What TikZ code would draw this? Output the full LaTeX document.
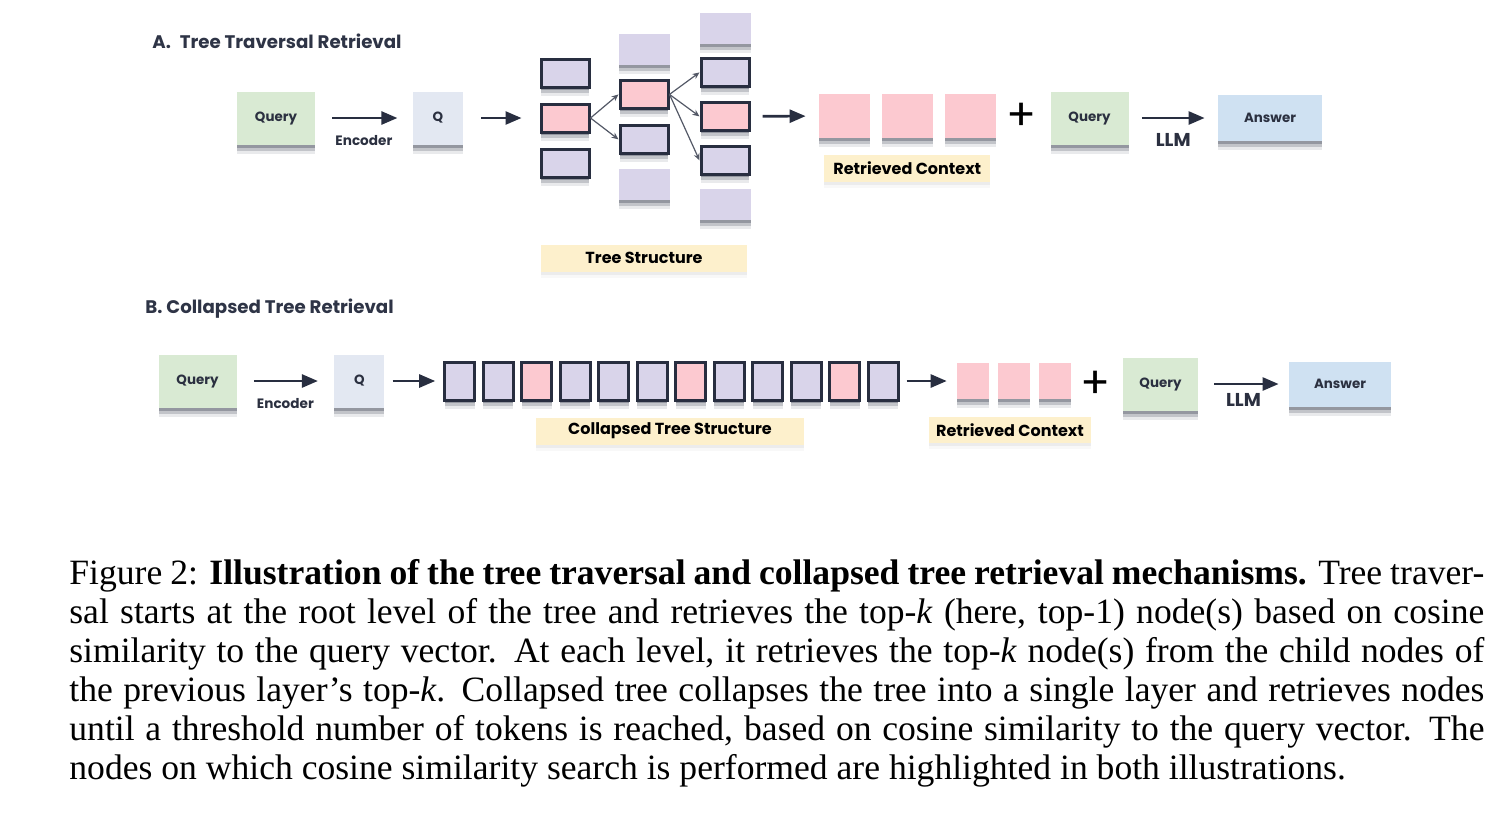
\documentclass[tikz,border=0pt]{standalone}
\usepackage{fontspec}
\setmainfont{Liberation Serif}
\newfontfamily\diagfont{Poppins}
\usepackage{tikz}
\usetikzlibrary{positioning,shadows,arrows.meta,calc}
\usepackage{xcolor}
\definecolor{querygreen}{RGB}{217,234,211}
\definecolor{qgrey}{RGB}{227,232,242}
\definecolor{answerblue}{RGB}{207,225,242}
\definecolor{hitpink}{RGB}{252,201,208}
\definecolor{lav}{RGB}{217,212,234}
\definecolor{edgedark}{RGB}{40,46,64}
\definecolor{tagyellow}{RGB}{253,240,204}
\definecolor{textdark}{RGB}{43,48,64}
\definecolor{titledark}{RGB}{46,52,70}

\begin{document}
\begin{tikzpicture}[
    x=0.5pt, y=-0.5pt,
    node distance=7pt,
    boxshadow/.style={
        drop shadow={shadow xshift=0pt, shadow yshift=-1.5pt, opacity=0.3, fill=edgedark},
        drop shadow={shadow xshift=0pt, shadow yshift=-3pt, opacity=0.2, fill=edgedark},
        drop shadow={shadow xshift=0pt, shadow yshift=-4.5pt, opacity=0.1, fill=edgedark}},
    box/.style={rectangle, inner sep=0pt, minimum width=39pt, minimum height=26.5pt, text=textdark, font=\diagfont\bfseries\fontsize{6.7}{8}\selectfont, boxshadow},
    query/.style={box, fill=querygreen},
    vec/.style={box, fill=qgrey, minimum width=25pt},
    answer/.style={box, fill=answerblue, minimum width=52pt, minimum height=23pt},
    tnode/.style={rectangle, inner sep=0pt, fill=lav, minimum width=25.5pt, minimum height=15.5pt, boxshadow},
    picked/.style={draw=edgedark, line width=1.5pt, minimum width=24pt, minimum height=14pt},
    hit/.style={fill=hitpink},
    cnode/.style={rectangle, inner sep=0pt, fill=lav, draw=edgedark, line width=1.5pt, minimum width=15pt, minimum height=19pt, boxshadow},
    ctx/.style={rectangle, inner sep=0pt, fill=hitpink, boxshadow},
    tag/.style={rectangle, inner sep=0pt, fill=tagyellow, minimum height=13.5pt, text=black, font=\diagfont\bfseries\fontsize{8}{9}\selectfont,
        drop shadow={shadow xshift=0pt, shadow yshift=-1.5pt, opacity=0.1},
        drop shadow={shadow xshift=0pt, shadow yshift=-3pt, opacity=0.06}},
    title/.style={font=\diagfont\bfseries\fontsize{9.1}{11}\selectfont, text=titledark, inner sep=0pt},
    edgelab/.style={font=\diagfont\bfseries\fontsize{6.8}{8}\selectfont, text=textdark, inner sep=0pt},
    llmlab/.style={font=\diagfont\bfseries\fontsize{9.3}{10}\selectfont, text=textdark, inner sep=0pt},
    plus/.style={font=\diagfont\fontsize{22}{24}\selectfont, text=black, inner sep=0pt},
    arr/.style={-{Triangle[length=8pt, width=6.5pt]}, line width=1.3pt, draw=edgedark},
    link/.style={-{Stealth[length=3.5pt, width=3pt]}, line width=0.6pt, draw=edgedark!80}
]
    \useasboundingbox (0,0) rectangle (1510,816);

    % A. Tree traversal
    \node[title, anchor=west] (titleA) at (152,41) {A.\hspace{2.5pt} Tree Traversal Retrieval};
    \node[query] (qA) at (276,118) {Query};
    \node[vec, right=48.5pt of qA] (vA) {Q};

    % Tree columns
    \node[tnode, picked] (c1a) at (565,73) {};
    \node[tnode, picked, hit, below=of c1a] (c1b) {};
    \node[tnode, picked, below=of c1b] (c1c) {};
    \node[tnode] (c2a) at (644,49) {};
    \node[tnode, picked, hit, below=of c2a] (c2b) {};
    \node[tnode, picked, below=of c2b] (c2c) {};
    \node[tnode, below=of c2c] (c2d) {};
    \node[tnode] (c3a) at (725,28) {};
    \node[tnode, picked, below=6.5pt of c3a] (c3b) {};
    \node[tnode, picked, hit, below=6.5pt of c3b] (c3c) {};
    \node[tnode, picked, below=6.5pt of c3c] (c3d) {};
    \node[tnode, below=6.5pt of c3d] (c3e) {};
    \node[tag, minimum width=103pt] (treeA) at (644,258) {Tree Structure};

    % Retrieved context + query
    \node[ctx, minimum width=25.5pt, minimum height=22pt] (rA1) at (844.5,116) {};
    \node[ctx, minimum width=25.5pt, minimum height=22pt, right=5.5pt of rA1] (rA2) {};
    \node[ctx, minimum width=25.5pt, minimum height=22pt, right=5.5pt of rA2] (rA3) {};
    \node[tag, minimum width=83pt, below=8pt of rA2] (ctxA) {Retrieved Context};
    \node[plus] (plusA) at (1022,117) {+};
    \node[query] (qA2) at (1089.5,118) {Query};
    \node[answer] (ansA) at (1270,118) {Answer};

    % B. Collapsed tree
    \node[title, anchor=west] (titleB) at (145,309) {B. Collapsed Tree Retrieval};
    \node[query] (qB) at (197.5,381) {Query};
    \node[vec, right=48.5pt of qB] (vB) {Q};

    % Collapsed layer
    \node[cnode, right=29.25pt of vB] (b1) {};
    \node[cnode, right=2.75pt of b1] (b2) {};
    \node[cnode, hit, right=2.75pt of b2] (b3) {};
    \node[cnode, right=2.75pt of b3] (b4) {};
    \node[cnode, right=2.75pt of b4] (b5) {};
    \node[cnode, right=2.75pt of b5] (b6) {};
    \node[cnode, hit, right=2.75pt of b6] (b7) {};
    \node[cnode, right=2.75pt of b7] (b8) {};
    \node[cnode, right=2.75pt of b8] (b9) {};
    \node[cnode, right=2.75pt of b9] (b10) {};
    \node[cnode, hit, right=2.75pt of b10] (b11) {};
    \node[cnode, right=2.75pt of b11] (b12) {};
    \node[tag, minimum width=134pt] (treeB) at (670,431) {Collapsed Tree Structure};

    % Retrieved context + query
    \node[ctx, minimum width=16pt, minimum height=18pt, right=28.5pt of b12] (rB1) {};
    \node[ctx, minimum width=16pt, minimum height=18pt, right=4pt of rB1] (rB2) {};
    \node[ctx, minimum width=16pt, minimum height=18pt, right=4pt of rB2] (rB3) {};
    \node[tag, minimum width=81pt, minimum height=13pt] (ctxB) at (1010,430) {Retrieved Context};
    \node[plus] (plusB) at (1096,385) {+};
    \node[query, minimum width=37.5pt] (qB2) at (1160.5,384) {Query};
    \node[answer, minimum width=51pt, minimum height=22.5pt] (ansB) at (1340,384) {Answer};

    % Caption
    \node[anchor=north west, text width=707.5pt, align=justify, inner sep=0pt, font=\fontsize{17.8}{19.5}\selectfont] (caption) at (69,559.5) {\noindent Figure 2: \textbf{Illustration of the tree traversal and collapsed tree retrieval mechanisms.} Tree traver-\linebreak sal starts at the root level of the tree and retrieves the top-\textit{k} (here, top-1) node(s) based on cosine\linebreak similarity to the query vector. At each level, it retrieves the top-\textit{k} node(s) from the child nodes of\linebreak the previous layer's top-\textit{k}. Collapsed tree collapses the tree into a single layer and retrieves nodes\linebreak until a threshold number of tokens is reached, based on cosine similarity to the query vector. The\linebreak nodes on which cosine similarity search is performed are highlighted in both illustrations.};

    % Edges
    \draw[arr, shorten <=8.5pt, shorten >=7.5pt] (qA) -- (vA) node[midway, below=8pt, edgelab] (encA) {Encoder};
    \draw[arr, shorten <=9pt, shorten >=9pt] (vA) -- (c1b);
    \draw[link] (c1b.east) -- (c2b.west);
    \draw[link] (c1b.east) -- (c2c.west);
    \draw[link] (c2b.east) -- (c3b.west);
    \draw[link] (c2b.east) -- (c3c.west);
    \draw[link] (c2b.east) -- (c3d.west);
    \draw[arr, shorten <=6pt, shorten >=6.5pt] (c3c) -- (rA1);
    \draw[arr, shorten <=6.5pt, shorten >=6.5pt] (qA2) -- (ansA) node[midway, below=7pt, llmlab] (llmA) {LLM};
    \draw[arr, shorten <=8.5pt, shorten >=8pt] (qB) -- (vB) node[midway, below=8pt, edgelab] (encB) {Encoder};
    \draw[arr, shorten <=4pt, shorten >=4pt] (vB) -- (b1);
    \draw[arr, shorten <=3.5pt, shorten >=5pt] (b12) -- (rB1);
    \draw[arr, shorten <=8pt, shorten >=5pt] (qB2) -- (ansB) node[midway, below=4pt, llmlab] (llmB) {LLM};
\end{tikzpicture}
\end{document}
